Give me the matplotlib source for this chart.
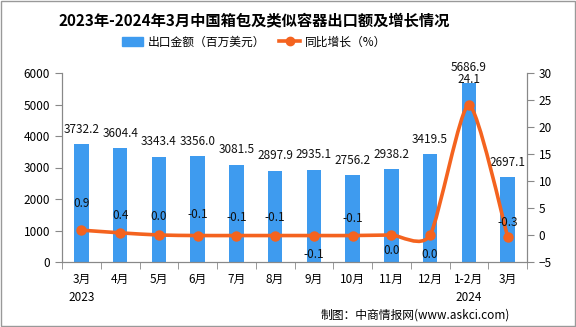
import matplotlib
matplotlib.use('Agg')
import matplotlib.pyplot as plt
from matplotlib.path import Path
from matplotlib.patches import PathPatch, Rectangle
from matplotlib.lines import Line2D
from matplotlib.patches import Patch

plt.rcParams['font.family'] = ['Noto Sans CJK SC', 'DejaVu Sans']

# data
months = ['3月\n2023', '4月', '5月', '6月', '7月', '8月', '9月', '10月', '11月', '12月', '1-2月\n2024', '3月']
export_value = [3732.2, 3604.4, 3343.4, 3356.0, 3081.5, 2897.9, 2935.1, 2756.2, 2938.2, 3419.5, 5686.9, 2697.1]
growth = [0.9, 0.4, 0.0, -0.1, -0.1, -0.1, -0.1, -0.1, 0.0, 0.0, 24.1, -0.3]
growth_txt = ['0.9', '0.4', '0.0', '-0.1', '-0.1', '-0.1', '-0.1', '-0.1', '0.0', '0.0', '24.1', '-0.3']

# label offsets for the growth line (pixels, + is above)
growth_off = [27, 17, 19, 21, 18, 18, -19, 17, -15, -19, 25, 14]

bar_c = '#3e9bef'
line_c = '#f4631f'
axis_c = '#888888'

fig = plt.figure(figsize=(5.76, 3.27), dpi=100)
ax = fig.add_axes([62/576, 1-262/327, 465/576, 189/327])
ax2 = ax.twinx()

x = list(range(len(months)))
ax.bar(x, export_value, width=0.37, color=bar_c, zorder=2)
ax.set_xlim(-0.5, len(months)-0.5)
ax.set_ylim(0, 6000)
ax.set_yticks(range(0, 6001, 1000))
ax2.set_ylim(-5, 30)
ax2.set_yticks(range(-5, 31, 5))

for xi, v in zip(x, export_value):
    ax.annotate(f'{v:.1f}', (xi, v), xytext=(0, 15), textcoords='offset pixels',
                ha='center', va='center', fontsize=8.5, color='#111111', zorder=5)

# smooth growth line (catmull-rom -> bezier)
pts = list(zip(x, growth))
verts = [pts[0]]
codes = [Path.MOVETO]
k = 0.11
for i in range(len(pts)-1):
    p0 = pts[i-1] if i > 0 else pts[i]
    p1 = pts[i]
    p2 = pts[i+1]
    p3 = pts[i+2] if i+2 < len(pts) else pts[i+1]
    c1 = (p1[0] + (p2[0]-p0[0])*k, p1[1] + (p2[1]-p0[1])*k)
    c2 = (p2[0] - (p3[0]-p1[0])*k, p2[1] - (p3[1]-p1[1])*k)
    verts += [c1, c2, p2]
    codes += [Path.CURVE4]*3
ax2.add_patch(PathPatch(Path(verts, codes), fill=False, edgecolor=line_c, lw=2.6, zorder=3))
ax2.plot(x, growth, 'o', color=line_c, ms=6.5, zorder=4)

for xi, v, t, off in zip(x, growth, growth_txt, growth_off):
    ax2.annotate(t, (xi, v), xytext=(0, off), textcoords='offset pixels',
                 ha='center', va='center', fontsize=8.5, color='#111111', zorder=5)

# axes styling
ax.set_xticks(x)
ax.set_xticklabels(months, fontsize=8.5, linespacing=1.45)
ax.set_xticks([i + 0.5 for i in range(-1, len(months))], minor=True)
ax.tick_params(axis='x', which='major', length=0, pad=8)
ax.tick_params(axis='x', which='minor', length=5, color=axis_c)
ax.tick_params(axis='y', labelsize=8.5, length=5, color=axis_c)
ax2.tick_params(axis='y', labelsize=8.5, length=5, color=axis_c)
for a in (ax, ax2):
    a.spines['top'].set_visible(False)
    for s in ('left', 'right', 'bottom'):
        a.spines[s].set_color(axis_c)

fig.text(254/576, 1-20/327, '2023年-2024年3月中国箱包及类似容器出口额及增长情况',
         ha='center', va='center', fontsize=11, fontweight='heavy')

handles = [Patch(color=bar_c, label='出口金额（百万美元）'),
           Line2D([], [], color=line_c, lw=2.6, marker='o', ms=6, label='同比增长（%）')]
fig.legend(handles=handles, loc='center', bbox_to_anchor=(254/576, 1-42/327), ncol=2,
           frameon=False, fontsize=8.5, handlelength=1.8, handletextpad=0.4, columnspacing=1.2)

fig.text(510/576, 1-315/327, '制图：中商情报网(www.askci.com)', ha='right', va='center', fontsize=8.5)

fig.patches.append(Rectangle((0.001, 0.002), 0.997, 0.995, transform=fig.transFigure,
                             fill=False, edgecolor='#999999', lw=1))

fig.savefig('out.png', dpi=100)
